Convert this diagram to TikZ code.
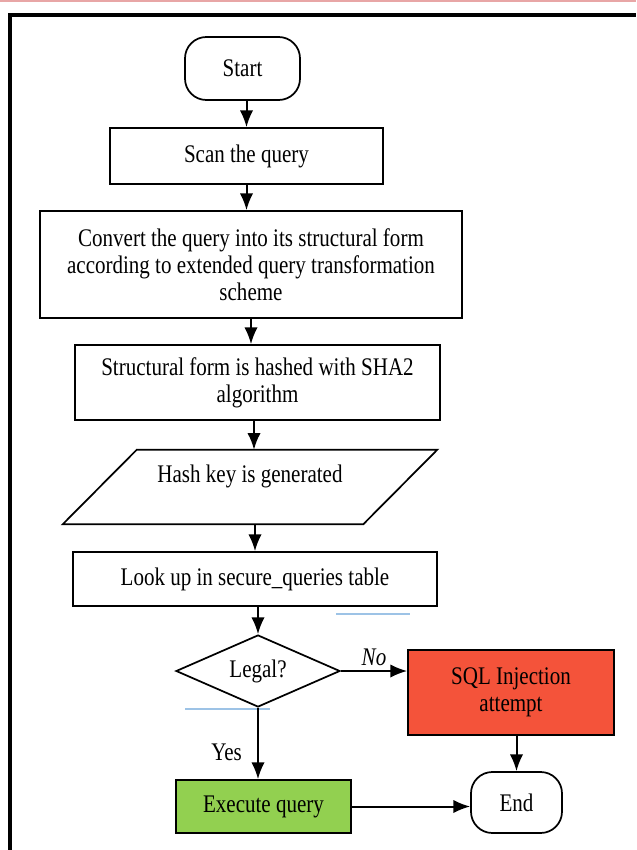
\documentclass[tikz,border=0pt]{standalone}
\usepackage{fontspec}
\setmainfont{Liberation Serif}[FakeStretch=0.83]
\usetikzlibrary{shapes.geometric,arrows.meta}
\definecolor{sqlred}{HTML}{F4533A}
\definecolor{okgreen}{HTML}{92D050}
\definecolor{hintblue}{HTML}{9DC3E6}
\definecolor{edgepink}{HTML}{E8A6A6}
\tikzset{
	box/.style={draw, line width=1.3pt, inner sep=0pt, align=center},
	terminal/.style={box, rounded corners=16pt},
	decision/.style={box, diamond, aspect=2.3},
	arr/.style={-{Latex[length=12.5pt,width=10pt]}, line width=1.5pt},
}
\begin{document}
\begin{tikzpicture}[x=0.75pt,y=-0.75pt,font=\fontsize{19}{20.25}\selectfont]
		\useasboundingbox (0,0) rectangle (636,850);
		% page frame
		\draw[edgepink, line width=1.5pt] (0,1) -- (636,1);
		\draw[line width=3pt] (10,850) -- (10,15) -- (636,15);
		% steps
		\node[terminal, minimum width=86.25pt, minimum height=47.25pt] (start) at (242.5,68.5) {Start};
		\node[box, minimum width=204.75pt, minimum height=42pt] (scan) at (246.5,156) {Scan the query};
		\node[box, minimum width=316.5pt, minimum height=80.25pt] (convert) at (251,264.5) {Convert the query into its structural form\\according to extended query transformation\\scheme};
		\node[box, minimum width=273.75pt, minimum height=56.25pt] (hashing) at (257.5,382.5) {Structural form is hashed with SHA2\\algorithm};
		\node[inner sep=0pt, minimum width=280.5pt, minimum height=55.5pt] (hashkey) at (250,487) {};
		\draw[line width=1.3pt] ([xshift=55.5pt]hashkey.north west) -- (hashkey.north east) -- ([xshift=-55.5pt]hashkey.south east) -- (hashkey.south west) -- cycle;
		\node (hashtext) at ([yshift=8pt]hashkey.center) {Hash key is generated};
		\node[box, minimum width=273pt, minimum height=40.5pt] (lookup) at (255,579) {Look up in secure\_queries table};
		\node[decision, minimum width=123pt, minimum height=54pt] (legal) at (258,671) {Legal?};
		\node[box, fill=sqlred, minimum width=154.5pt, minimum height=63.75pt] (attack) at (511,692.5) {SQL Injection\\attempt};
		\node[box, fill=okgreen, minimum width=131.25pt, minimum height=39.75pt] (execute) at (263.5,806.5) {Execute query};
		\node[terminal, minimum width=68.25pt, minimum height=45.75pt] (end) at (516.5,802.5) {End};
		% stray blue rules
		\draw[hintblue, line width=1pt] (336,614) -- (410,614);
		\draw[hintblue, line width=1pt] (185,709) -- (270,709);
		% flow
		\draw[arr] (start.south -| scan.north) -- (scan.north);
		\draw[arr] (scan.south) -- (scan.south |- convert.north);
		\draw[arr] (convert.south) -- (convert.south |- hashing.north);
		\draw[arr] (hashing.south -| 254,0) -- (hashkey.north -| 254,0);
		\draw[arr] (hashkey.south -| lookup.north) -- (lookup.north);
		\draw[arr] (legal.north |- lookup.south) -- (legal.north);
		\draw[arr] (legal.east) -- node[above, font=\fontsize{19}{20.25}\itshape] {No} (legal.east -| attack.west);
		\draw[arr] (legal.south) -- node[pos=0.63, left=8pt] {Yes} (legal.south |- execute.north);
		\draw[arr] (execute.east) -- (execute.east -| end.west);
		\draw[arr] (end.north |- attack.south) -- (end.north);
	\end{tikzpicture}
\end{document}
